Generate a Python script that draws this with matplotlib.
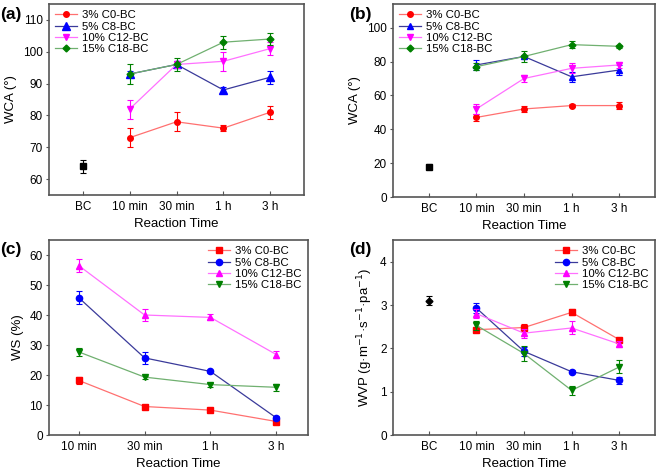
import matplotlib
matplotlib.use("Agg")
import matplotlib.pyplot as plt

plt.rcParams['font.family'] = ['Liberation Sans', 'DejaVu Sans']

# categories
times_bc = ['BC', '10 min', '30 min', '1 h', '3 h']
times = ['10 min', '30 min', '1 h', '3 h']
labels = ['3% C0-BC', '5% C8-BC', '10% C12-BC', '15% C18-BC']

# (a) WCA
wca_a_bc, wca_a_bc_err = 64, 2
wca_a = [[73, 78, 76, 81], [93, 96, 88, 92], [82, 96, 97, 101], [93, 96, 103, 104]]
wca_a_err = [[3, 3, 1, 2], [1, 1, 1, 2], [3, 1, 3, 2], [3, 2, 2, 2]]

# (b) WCA
wca_b_bc, wca_b_bc_err = 18, 1.5
wca_b = [[47, 52, 54, 54], [78, 83, 71, 75], [52, 70, 76, 78], [77, 83, 90, 89]]
wca_b_err = [[2, 1.5, 1, 2], [3, 1, 3, 3], [3, 2, 3, 2], [2, 3, 2, 1]]

# (c) WS
ws = [[18.2, 9.5, 8.3, 4.5], [45.8, 25.7, 21.2, 5.7], [56.5, 40.0, 39.2, 26.8], [27.7, 19.3, 16.8, 15.9]]
ws_err = [[1.2, 0.5, 0.5, 0.5], [2.2, 2.0, 0.5, 0.8], [2.2, 2.0, 1.0, 1.2], [1.2, 0.5, 0.7, 1.2]]

# (d) WVP
wvp_bc, wvp_bc_err = 3.1, 0.1
wvp = [[2.43, 2.48, 2.83, 2.20], [2.93, 1.93, 1.46, 1.26], [2.80, 2.35, 2.47, 2.10], [2.53, 1.88, 1.03, 1.57]]
wvp_err = [[0.05, 0.08, 0.07, 0.05], [0.12, 0.10, 0.03, 0.08], [0.10, 0.10, 0.15, 0.08], [0.10, 0.18, 0.10, 0.15]]

mk_colors = ['#ff0000', '#0000ff', '#ff00ff', '#008000']
ln_colors = ['#ff7070', '#3a3a9a', '#ff70ff', '#70b070']

W, H = 657, 470
fig = plt.figure(figsize=(W / 100, H / 100), dpi=100)


def make_ax(l, r, t, b):
    return fig.add_axes([l / W, 1 - b / H, (r - l) / W, (b - t) / H])


def style(ax, ticks, xlim, ylabel):
    ax.set_xticks(range(len(ticks)))
    ax.set_xticklabels(ticks)
    ax.set_xlim(*xlim)
    ax.set_xlabel('Reaction Time', fontsize=9.5)
    ax.set_ylabel(ylabel, fontsize=9.5)
    for s in ax.spines.values():
        s.set_color('#555555')
        s.set_linewidth(1.2)
    ax.tick_params(axis='y', direction='out', length=2.5, pad=2, labelsize=8.5, color='#555555')
    ax.tick_params(axis='x', direction='in', length=3, pad=4, labelsize=8.5, color='#555555')


def draw(ax, x, data, err, markers, sizes):
    for i in range(4):
        ax.errorbar(x, data[i], yerr=err[i], ecolor=mk_colors[i], ls='none',
                    elinewidth=0.8, capsize=2, capthick=0.8)
        ax.plot(x, data[i], color=ln_colors[i], marker=markers[i], ms=sizes[i],
                mfc=mk_colors[i], mec=mk_colors[i], lw=0.9, label=labels[i])


def legend(ax, loc):
    ax.legend(loc=loc, frameon=False, fontsize=8.2, handlelength=1.9,
              borderaxespad=0.15, labelspacing=0.12, handletextpad=0.45)


# (a)
ax = make_ax(49, 304, 4, 195)
x4 = [1, 2, 3, 4]
ax.errorbar([0], [wca_a_bc], yerr=[wca_a_bc_err], color='k', marker='s', ms=4,
            capsize=2, elinewidth=0.8, capthick=0.8, ls='none')
draw(ax, x4, wca_a, wca_a_err, ['o', '^', 'v', 'D'], [4, 6, 4.5, 3.5])
ax.set_ylim(55, 115)
ax.set_yticks(range(60, 111, 10))
style(ax, times_bc, (-0.72, 4.72), 'WCA (°)')
legend(ax, 'upper left')
fig.text(0.0, 1 - 19 / H, '(a)', fontsize=12.5, fontweight='bold')

# (b)
ax = make_ax(393, 655, 4, 197)
ax.errorbar([0], [wca_b_bc], yerr=[wca_b_bc_err], color='k', marker='s', ms=4,
            capsize=2, elinewidth=0.8, capthick=0.8, ls='none')
draw(ax, x4, wca_b, wca_b_err, ['o', '^', 'v', 'D'], [4, 4, 4.5, 3.5])
ax.set_ylim(0, 114)
ax.set_yticks(range(0, 101, 20))
style(ax, times_bc, (-0.75, 4.75), 'WCA (°)')
legend(ax, 'upper left')
fig.text(349 / W, 1 - 19 / H, '(b)', fontsize=12.5, fontweight='bold')

# (c)
ax = make_ax(49, 308, 240, 435)
draw(ax, [0, 1, 2, 3], ws, ws_err, ['s', 'o', '^', 'v'], [4, 4.5, 4.5, 4.5])
ax.set_ylim(0, 65)
ax.set_yticks(range(0, 61, 10))
style(ax, times, (-0.45, 3.48), 'WS (%)')
legend(ax, 'upper right')
fig.text(0.0, 1 - 254 / H, '(c)', fontsize=12.5, fontweight='bold')

# (d)
ax = make_ax(393, 655, 240, 435)
ax.errorbar([0], [wvp_bc], yerr=[wvp_bc_err], color='k', marker='D', ms=3.5,
            capsize=2, elinewidth=0.8, capthick=0.8, ls='none')
draw(ax, x4, wvp, wvp_err, ['s', 'o', '^', 'v'], [4, 4.5, 4.5, 4.5])
ax.set_ylim(0, 4.5)
ax.set_yticks(range(0, 5))
style(ax, times_bc, (-0.75, 4.75), 'WVP (g·m$^{-1}$·s$^{-1}$·pa$^{-1}$)')
legend(ax, 'upper right')
fig.text(349 / W, 1 - 254 / H, '(d)', fontsize=12.5, fontweight='bold')

fig.savefig('out.png', dpi=100)
